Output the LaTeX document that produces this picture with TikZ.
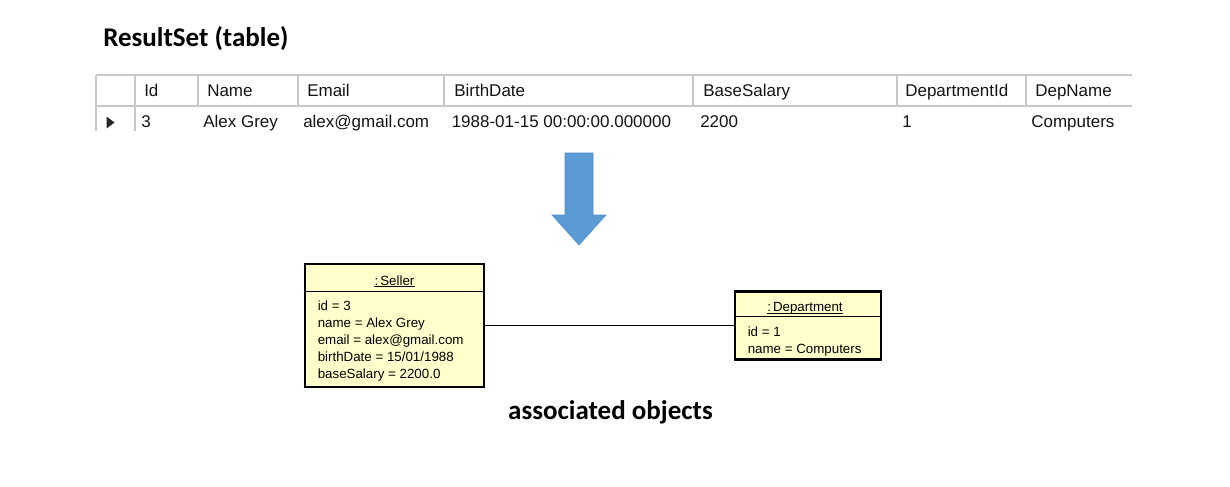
\documentclass[tikz,border=0pt]{standalone}
\usepackage{fontspec}
\setmainfont{Liberation Sans}
\newfontfamily\carlito{Carlito}
\definecolor{gridgray}{RGB}{200,200,200}
\definecolor{umlfill}{RGB}{255,255,204}
\definecolor{arrowblue}{RGB}{91,155,213}
\definecolor{arrowedge}{RGB}{80,140,200}
\definecolor{tabtext}{RGB}{20,20,20}
\begin{document}
\begin{tikzpicture}[x=0.75pt,y=-0.75pt,
  bigtitle/.style={inner sep=0pt,anchor=base west,font=\carlito\bfseries\fontsize{20.25pt}{24pt}\selectfont},
  tabhead/.style={inner sep=0pt,anchor=base west,text=tabtext,font=\fontsize{12.75pt}{15pt}\selectfont},
  tabcell/.style={inner sep=0pt,anchor=base west,text=tabtext,font=\fontsize{12.75pt}{15pt}\selectfont},
  gridline/.style={draw=gridgray,line width=0.8pt},
  umlbox/.style={draw=black,line width=1.9pt,fill=umlfill,inner sep=0pt},
  umlsep/.style={draw=black,line width=1.1pt},
  umltitle/.style={inner sep=0pt,anchor=base,font=\fontsize{10pt}{12pt}\selectfont},
  umltext/.style={inner sep=0pt,anchor=base west,font=\fontsize{10pt}{12pt}\selectfont},
  uline/.style={draw=black,line width=0.6pt},
  assoc/.style={draw=black,line width=0.75pt},
  bigarrow/.style={fill=arrowblue,draw=arrowedge,line width=0.4pt}
]
\useasboundingbox (0,0) rectangle (1230,486);

% title
\node[bigtitle] (title) at (103,46.7) {ResultSet (table)};

% table grid
\draw[gridline] (96,75) -- (1132,75);
\draw[gridline] (96,106) -- (1132,106);
\draw[gridline] (96,75) -- (96,131);
\draw[gridline] (135,75) -- (135,131);
\foreach \x in {198,298,444,693,897,1026} {
  \draw[gridline] (\x,75) -- (\x,106);
}
% row indicator
\fill[black!85] (106.5,116.5) -- (114.5,122.5) -- (106.5,128.5) -- cycle;

% header
\node[tabhead] (hId)   at (144,96.5)  {Id};
\node[tabhead] (hName) at (207,96.5)  {Name};
\node[tabhead] (hEmail) at (307,96.5) {Email};
\node[tabhead] (hBirth) at (454,96.5) {BirthDate};
\node[tabhead] (hBase) at (703,96.5)  {BaseSalary};
\node[tabhead] (hDepId) at (905,96.5) {DepartmentId};
\node[tabhead] (hDepName) at (1035,96.5) {DepName};

% data row
\node[tabcell] (dId)   at (141,127)  {3};
\node[tabcell] (dName) at (203,127)  {Alex Grey};
\node[tabcell] (dEmail) at (303,127) {alex@gmail.com};
\node[tabcell] (dBirth) at (451.5,127) {1988-01-15 00:00:00.000000};
\node[tabcell] (dBase) at (700,127)  {2200};
\node[tabcell] (dDepId) at (902,127) {1};
\node[tabcell] (dDepName) at (1031,127) {Computers};

% big arrow
\draw[bigarrow] (565,153) -- (593,153) -- (593,215) -- (606,215) -- (579,245)
  -- (552,215) -- (565,215) -- cycle;

% Seller box
\node[umlbox,minimum width=179*0.75pt,minimum height=123*0.75pt] (seller) at (394.5,325.5) {};
\draw[umlsep] (305,291.5) -- (484,291.5);
\node[umltitle] (sellerT) at (394.5,285) {:\kern0.15em Seller};
\draw[uline] ([yshift=-1.4pt]sellerT.base west) -- ([yshift=-1.4pt]sellerT.base east);
\node[umltext] (s1) at (317.5,310) {id = 3};
\node[umltext] (s2) at (317.5,327) {name = Alex Grey};
\node[umltext] (s3) at (317.5,344) {email = alex@gmail.com};
\node[umltext] (s4) at (317.5,361) {birthDate = 15/01/1988};
\node[umltext] (s5) at (317.5,378) {baseSalary = 2200.0};

% Department box
\node[umlbox,minimum width=146*0.75pt,minimum height=68.5*0.75pt] (dept) at (808,325.5) {};
\draw[umlsep] (735,316.7) -- (881,316.7);
\node[umltitle] (deptT) at (805,311.5) {:\kern0.15em Department};
\draw[uline] ([yshift=-1.4pt]deptT.base west) -- ([yshift=-1.4pt]deptT.base east);
\node[umltext] (t1) at (747.5,336.7) {id = 1};
\node[umltext] (t2) at (747.5,353.5) {name = Computers};

% association
\draw[assoc] (seller.east) -- (dept.west);

% caption
\node[bigtitle,anchor=base] (caption) at (610.5,419) {associated objects};
\end{tikzpicture}
\end{document}
